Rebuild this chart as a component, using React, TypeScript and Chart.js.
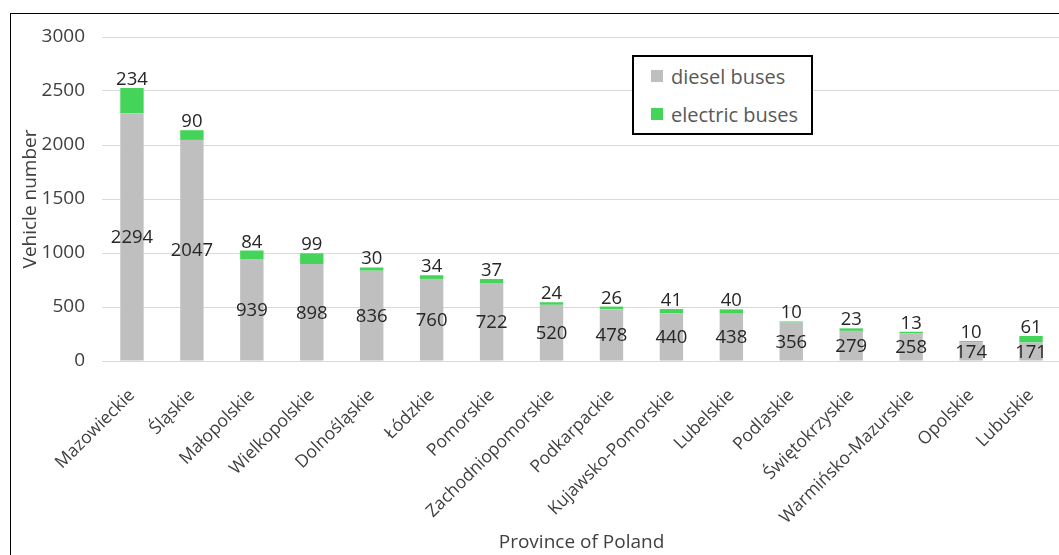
import React, { useEffect, useRef } from "react";
import { Chart, registerables } from "chart.js";

Chart.register(...registerables);

// Bus fleet by province of Poland
const provinces = [
  "Mazowieckie",
  "Śląskie",
  "Małopolskie",
  "Wielkopolskie",
  "Dolnośląskie",
  "Łódzkie",
  "Pomorskie",
  "Zachodniopomorskie",
  "Podkarpackie",
  "Kujawsko-Pomorskie",
  "Lubelskie",
  "Podlaskie",
  "Świętokrzyskie",
  "Warmińsko-Mazurskie",
  "Opolskie",
  "Lubuskie",
];
const dieselBuses = [2294, 2047, 939, 898, 836, 760, 722, 520, 478, 440, 438, 356, 279, 258, 174, 171];
const electricBuses = [234, 90, 84, 99, 30, 34, 37, 24, 26, 41, 40, 10, 23, 13, 10, 61];
const seriesNames = ["diesel buses", "electric buses"];
const seriesColors = ["#BFBFBF", "#45D45A"];
const yMin = 0;
const yMax = 3000;
const yStep = 500;

const FONT_FAMILY = "'Open Sans', 'Noto Sans', sans-serif";
const TEXT_COLOR = "#404040";

// Draws the value labels: diesel inside the grey segment, electric above the stack
const barValueLabels = {
  id: "barValueLabels",
  afterDatasetsDraw(chart: any) {
    const ctx = chart.ctx;
    ctx.save();
    ctx.font = `18.5px ${FONT_FAMILY}`;
    ctx.fillStyle = "#262626";
    ctx.textAlign = "center";
    const dieselMeta = chart.getDatasetMeta(0);
    const electricMeta = chart.getDatasetMeta(1);
    ctx.textBaseline = "middle";
    dieselMeta.data.forEach((bar: any, i: number) => {
      const { x, y, base } = bar.getProps(["x", "y", "base"], true);
      ctx.fillText(String(dieselBuses[i]), x, (y + base) / 2 + 1);
    });
    ctx.textBaseline = "alphabetic";
    electricMeta.data.forEach((bar: any, i: number) => {
      const { x, y } = bar.getProps(["x", "y"], true);
      ctx.fillText(String(electricBuses[i]), x, y - 3);
    });
    ctx.restore();
  },
};

export default function App() {
  const canvasRef = useRef<HTMLCanvasElement | null>(null);

  useEffect(() => {
    if (!canvasRef.current) return;
    const font = { family: FONT_FAMILY, size: 19 };
    const chart = new Chart(canvasRef.current, {
      type: "bar",
      data: {
        labels: provinces,
        datasets: [
          { label: seriesNames[0], data: dieselBuses, backgroundColor: seriesColors[0] },
          { label: seriesNames[1], data: electricBuses, backgroundColor: seriesColors[1] },
        ],
      },
      plugins: [barValueLabels],
      options: {
        animation: false,
        responsive: false,
        layout: { padding: { left: 0, top: 37, right: 9, bottom: 0 } },
        plugins: {
          legend: { display: false },
          tooltip: { enabled: false },
        },
        datasets: { bar: { barPercentage: 0.39, categoryPercentage: 1 } },
        scales: {
          x: {
            stacked: true,
            grid: { display: false },
            border: { display: false },
            ticks: {
              autoSkip: false,
              maxRotation: 45,
              minRotation: 45,
              padding: 16,
              color: TEXT_COLOR,
              font: { family: FONT_FAMILY, size: 17.5 },
            },
            title: {
              display: true,
              text: "Province of Poland",
              color: TEXT_COLOR,
              font,
              padding: { top: 0, bottom: 1 },
            },
            afterFit: (scale: any) => {
              scale.height = 194;
            },
          },
          y: {
            stacked: true,
            min: yMin,
            max: yMax,
            ticks: {
              stepSize: yStep,
              padding: 17,
              color: TEXT_COLOR,
              font,
              callback: (value: any) => String(value),
            },
            grid: { color: "#D9D9D9", lineWidth: 1, drawTicks: false },
            border: { display: false },
            title: {
              display: true,
              text: "Vehicle number",
              color: TEXT_COLOR,
              font,
              padding: { top: 19, bottom: 0 },
            },
            afterFit: (scale: any) => {
              scale.width = 102;
            },
          },
        },
      },
    } as any);
    return () => chart.destroy();
  }, []);

  const legendItem = (name: string, color: string) => (
    <div style={{ display: "flex", alignItems: "center", height: 38 }}>
      <span
        style={{
          display: "inline-block",
          width: 12,
          height: 12,
          background: color,
          marginRight: 8,
        }}
      />
      <span>{name}</span>
    </div>
  );

  return (
    <div
      style={{
        position: "fixed",
        left: 0,
        top: 0,
        width: 1059,
        height: 555,
        overflow: "hidden",
        background: "#fff",
      }}
    >
      <div
        style={{
          position: "absolute",
          left: 10,
          top: 13,
          width: 2000,
          height: 2000,
          borderLeft: "1.5px solid #000",
          borderTop: "1.5px solid #000",
        }}
      />
      <canvas
        ref={canvasRef}
        width={1070}
        height={555}
        style={{ position: "absolute", left: 0, top: 0, width: 1070, height: 555 }}
      />
      <div
        style={{
          position: "absolute",
          left: 632,
          top: 55,
          width: 181,
          height: 80,
          border: "2px solid #000",
          background: "#fff",
          boxSizing: "border-box",
          paddingLeft: 17,
          fontFamily: FONT_FAMILY,
          fontSize: 20,
          color: "#595959",
          display: "flex",
          flexDirection: "column",
          justifyContent: "center",
        }}
      >
        {legendItem(seriesNames[0], seriesColors[0])}
        {legendItem(seriesNames[1], seriesColors[1])}
      </div>
    </div>
  );
}
